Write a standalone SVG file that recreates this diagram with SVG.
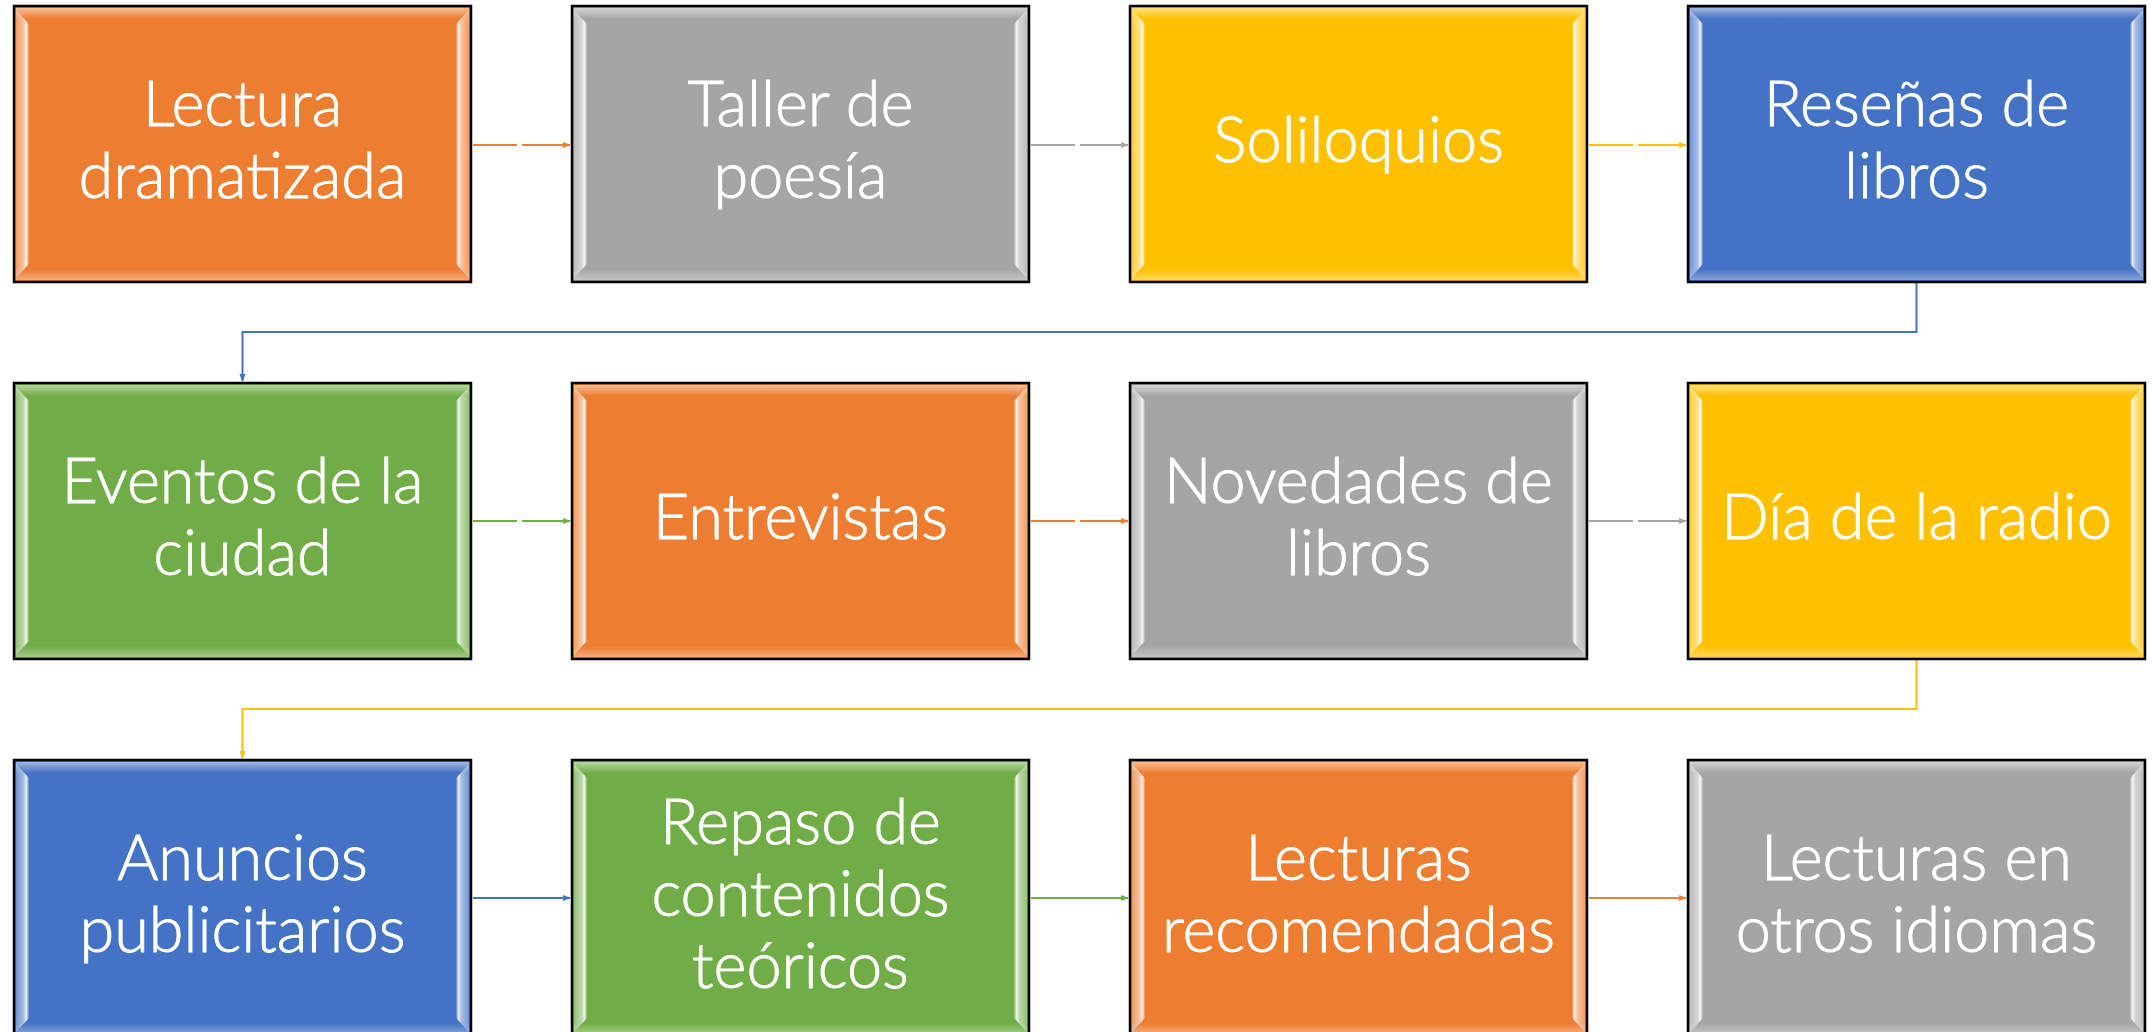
<svg xmlns="http://www.w3.org/2000/svg" xmlns:xlink="http://www.w3.org/1999/xlink" width="2154" height="1032" viewBox="0 0 2154 1032">
<style>
.box{stroke:#000;stroke-width:2.5}
.or{fill:#ED7D31}.gr{fill:#A5A5A5}.ye{fill:#FFC000}.bl{fill:#4472C4}.gn{fill:#70AD47}
.t{fill:#fff;stroke:#fff;stroke-width:0.9;font-family:Lato,"Open Sans","Liberation Sans",sans-serif;font-weight:300;font-size:63px;text-anchor:middle}
.c{fill:none;stroke-width:2}
.gap{stroke-dasharray:44 5 200}
</style>
<defs>
<linearGradient id="gTop" x1="0" y1="0" x2="0" y2="1"><stop offset="0" stop-color="#fff" stop-opacity="0.5"/><stop offset="1" stop-color="#fff" stop-opacity="0"/></linearGradient>
<linearGradient id="gBot" x1="0" y1="0" x2="0" y2="1"><stop offset="0" stop-color="#fff" stop-opacity="0"/><stop offset="1" stop-color="#fff" stop-opacity="0.35"/></linearGradient>
<linearGradient id="gL" x1="0" y1="0" x2="1" y2="0"><stop offset="0" stop-color="#fff" stop-opacity="0.25"/><stop offset="0.6" stop-color="#fff" stop-opacity="0.55"/><stop offset="0.8" stop-color="#fff" stop-opacity="0.9"/><stop offset="1" stop-color="#fff" stop-opacity="0.1"/></linearGradient>
<linearGradient id="gR" x1="1" y1="0" x2="0" y2="0"><stop offset="0" stop-color="#fff" stop-opacity="0.25"/><stop offset="0.6" stop-color="#fff" stop-opacity="0.55"/><stop offset="0.8" stop-color="#fff" stop-opacity="0.9"/><stop offset="1" stop-color="#fff" stop-opacity="0.1"/></linearGradient>
<g id="bevel">
<rect x="2" y="2" width="453" height="11" fill="url(#gTop)"/>
<rect x="2" y="263" width="453" height="11" fill="url(#gBot)"/>
<polygon points="2,4 15,18 15,258 2,272" fill="url(#gL)"/>
<polygon points="455,4 442,18 442,258 455,272" fill="url(#gR)"/>
</g>
<marker id="aOr" viewBox="0 0 10 10" refX="9" refY="5" markerWidth="4" markerHeight="4" orient="auto"><path d="M0,1 L10,5 L0,9 Z" fill="#ED7D31"/></marker>
<marker id="aGr" viewBox="0 0 10 10" refX="9" refY="5" markerWidth="4" markerHeight="4" orient="auto"><path d="M0,1 L10,5 L0,9 Z" fill="#A5A5A5"/></marker>
<marker id="aYe" viewBox="0 0 10 10" refX="9" refY="5" markerWidth="4" markerHeight="4" orient="auto"><path d="M0,1 L10,5 L0,9 Z" fill="#FFC000"/></marker>
<marker id="aBl" viewBox="0 0 10 10" refX="9" refY="5" markerWidth="4" markerHeight="4" orient="auto"><path d="M0,1 L10,5 L0,9 Z" fill="#4472C4"/></marker>
<marker id="aGn" viewBox="0 0 10 10" refX="9" refY="5" markerWidth="4" markerHeight="4" orient="auto"><path d="M0,1 L10,5 L0,9 Z" fill="#70AD47"/></marker>
</defs>
<rect width="2154" height="1032" fill="#fff"/>

<g id="connectors">
<path class="c gap" stroke="#ED7D31" marker-end="url(#aOr)" d="M473,145 H570"/>
<path class="c gap" stroke="#A5A5A5" marker-end="url(#aGr)" d="M1031,145 H1128"/>
<path class="c gap" stroke="#FFC000" marker-end="url(#aYe)" d="M1589,145 H1686"/>
<path class="c" stroke="#4472C4" marker-end="url(#aBl)" d="M1916.5,282 V332 H242.5 V381"/>
<path class="c gap" stroke="#70AD47" marker-end="url(#aGn)" d="M473,521 H570"/>
<path class="c gap" stroke="#ED7D31" marker-end="url(#aOr)" d="M1031,521 H1128"/>
<path class="c gap" stroke="#A5A5A5" marker-end="url(#aGr)" d="M1589,521 H1686"/>
<path class="c" stroke="#FFC000" marker-end="url(#aYe)" d="M1916.5,659 V709 H242.5 V758"/>
<path class="c" stroke="#4472C4" marker-end="url(#aBl)" d="M473,898 H570"/>
<path class="c" stroke="#70AD47" marker-end="url(#aGn)" d="M1031,898 H1128"/>
<path class="c" stroke="#ED7D31" marker-end="url(#aOr)" d="M1589,898 H1686"/>
</g>

<g id="n1"><rect class="box or" x="14" y="6" width="457" height="276"/><use xlink:href="#bevel" x="14" y="6"/><text class="t"><tspan x="242.5" y="126">Lectura</tspan><tspan x="242.5" y="198">dramatizada</tspan></text></g>
<g id="n2"><rect class="box gr" x="572" y="6" width="457" height="276"/><use xlink:href="#bevel" x="572" y="6"/><text class="t"><tspan x="800.5" y="126">Taller de</tspan><tspan x="800.5" y="198">poesía</tspan></text></g>
<g id="n3"><rect class="box ye" x="1130" y="6" width="457" height="276"/><use xlink:href="#bevel" x="1130" y="6"/><text class="t" x="1358.5" y="162">Soliloquios</text></g>
<g id="n4"><rect class="box bl" x="1688" y="6" width="457" height="276"/><use xlink:href="#bevel" x="1688" y="6"/><text class="t"><tspan x="1916.5" y="126">Reseñas de</tspan><tspan x="1916.5" y="198">libros</tspan></text></g>

<g id="n5"><rect class="box gn" x="14" y="383" width="457" height="276"/><use xlink:href="#bevel" x="14" y="383"/><text class="t"><tspan x="242.5" y="503">Eventos de la</tspan><tspan x="242.5" y="575">ciudad</tspan></text></g>
<g id="n6"><rect class="box or" x="572" y="383" width="457" height="276"/><use xlink:href="#bevel" x="572" y="383"/><text class="t" x="800.5" y="539">Entrevistas</text></g>
<g id="n7"><rect class="box gr" x="1130" y="383" width="457" height="276"/><use xlink:href="#bevel" x="1130" y="383"/><text class="t"><tspan x="1358.5" y="503">Novedades de</tspan><tspan x="1358.5" y="575">libros</tspan></text></g>
<g id="n8"><rect class="box ye" x="1688" y="383" width="457" height="276"/><use xlink:href="#bevel" x="1688" y="383"/><text class="t" x="1916.5" y="539">Día de la radio</text></g>

<g id="n9"><rect class="box bl" x="14" y="760" width="457" height="276"/><use xlink:href="#bevel" x="14" y="760"/><text class="t"><tspan x="242.5" y="880">Anuncios</tspan><tspan x="242.5" y="952">publicitarios</tspan></text></g>
<g id="n10"><rect class="box gn" x="572" y="760" width="457" height="276"/><use xlink:href="#bevel" x="572" y="760"/><text class="t"><tspan x="800.5" y="844">Repaso de</tspan><tspan x="800.5" y="916">contenidos</tspan><tspan x="800.5" y="988">teóricos</tspan></text></g>
<g id="n11"><rect class="box or" x="1130" y="760" width="457" height="276"/><use xlink:href="#bevel" x="1130" y="760"/><text class="t"><tspan x="1358.5" y="880">Lecturas</tspan><tspan x="1358.5" y="952">recomendadas</tspan></text></g>
<g id="n12"><rect class="box gr" x="1688" y="760" width="457" height="276"/><use xlink:href="#bevel" x="1688" y="760"/><text class="t"><tspan x="1916.5" y="880">Lecturas en</tspan><tspan x="1916.5" y="952">otros idiomas</tspan></text></g>
</svg>
